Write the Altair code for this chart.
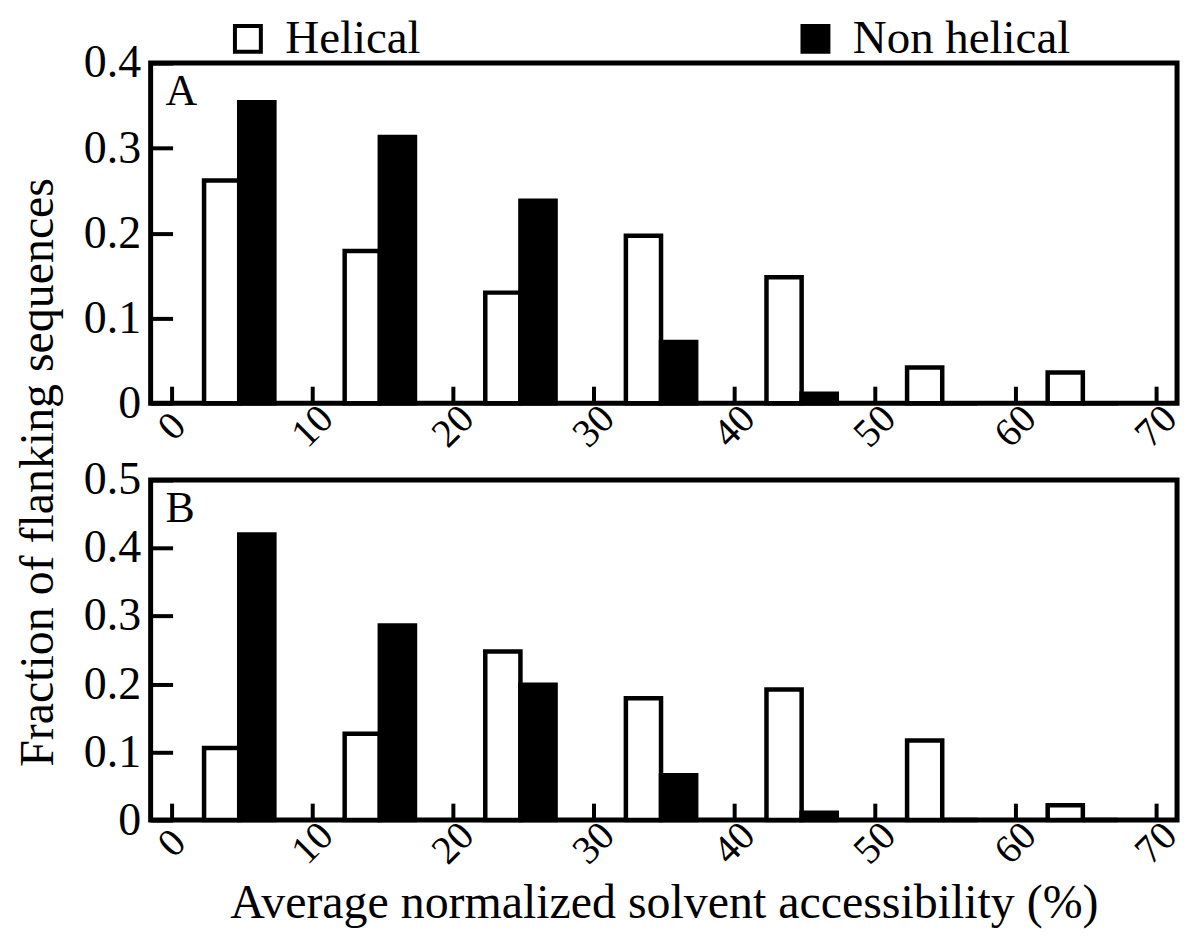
import altair as alt
import pandas as pd

# ---------------- data ----------------
bins = [0, 10, 20, 30, 40, 50, 60]
x_ticks = [0, 10, 20, 30, 40, 50, 60, 70]
series = ["Helical", "Non helical"]

a_helical = [0.262, 0.179, 0.130, 0.197, 0.148, 0.042, 0.036]
a_nonhelical = [0.354, 0.313, 0.238, 0.072, 0.011, 0.0, 0.0]
b_helical = [0.106, 0.127, 0.248, 0.179, 0.192, 0.117, 0.022]
b_nonhelical = [0.420, 0.286, 0.199, 0.066, 0.011, 0.0, 0.0]

a_yticks = [0, 0.1, 0.2, 0.3, 0.4]
b_yticks = [0, 0.1, 0.2, 0.3, 0.4, 0.5]
panel_labels = ["A", "B"]

x_title = "Average normalized solvent accessibility (%)"
y_title = "Fraction of flanking sequences"

# ---------------- layout / style ----------------
FONT = "Liberation Serif"
OFFSETS = {"Helical": (2.3, 4.8), "Non helical": (4.8, 7.3)}  # placement of the two bars in each bin
PLOT_W, PLOT_H = 1029, 341


def make_df(h, n):
    rows = []
    for s, vals in zip(series, [h, n]):
        lo, hi = OFFSETS[s]
        for b, v in zip(bins, vals):
            rows.append({"bin": b, "x0": b + lo, "x1": b + hi, "value": v, "series": s})
    return pd.DataFrame(rows)


legend = alt.Legend(
    title=None, orient="none", legendX=74, legendY=-48, direction="horizontal",
    symbolType="square", symbolSize=676, symbolStrokeColor="black", symbolStrokeWidth=4,
    labelFont=FONT, labelFontSize=47, labelColor="black", columnPadding=372,
    labelOffset=14, padding=0, labelLimit=500,
)


def panel(df, yticks, label, with_title):
    xaxis_kw = dict(
        values=x_ticks, offset=-17, tickSize=17, tickWidth=4, tickColor="black",
        domain=False, grid=False, labelAngle=-45, labelAlign="center",
        labelBaseline="middle", labelPadding=23, labelFontSize=40, labelFont=FONT,
        labelColor="black", labelFlush=False, labelOverlap=False,
    )
    if with_title:
        xaxis_kw.update(title=x_title, titleFont=FONT, titleFontSize=48,
                        titleFontWeight="normal", titleColor="black", titlePadding=8)
    else:
        xaxis_kw.update(title=None)
    xaxis = alt.Axis(**xaxis_kw)
    yaxis = alt.Axis(
        values=yticks, offset=-22, tickSize=22, tickWidth=4, tickColor="black",
        domain=False, grid=False, labelFontSize=46, labelFont=FONT, labelColor="black",
        labelPadding=10, labelFlush=False, labelOverlap=False,
        labelExpr="datum.value == 0 ? '0' : format(datum.value, '.1f')", title=None,
    )
    bars = alt.Chart(df).mark_bar(stroke="black", strokeWidth=4.5).encode(
        x=alt.X("x0:Q", scale=alt.Scale(domain=[-1.5, 71.5], nice=False, zero=False), axis=xaxis),
        x2="x1:Q",
        y=alt.Y("value:Q", scale=alt.Scale(domain=[0, yticks[-1]], nice=False), axis=yaxis),
        y2=alt.datum(0),
        fill=alt.Fill("series:N", scale=alt.Scale(domain=series, range=["white", "black"]),
                      legend=legend),
    )
    lab = alt.Chart(pd.DataFrame({"label": [label]})).mark_text(
        font=FONT, fontSize=44, align="left", baseline="alphabetic", color="black"
    ).encode(x=alt.value(15), y=alt.value(42), text="label:N")
    return alt.layer(bars, lab).properties(width=PLOT_W, height=PLOT_H)


chart_a = panel(make_df(a_helical, a_nonhelical), a_yticks, panel_labels[0], False)
chart_b = panel(make_df(b_helical, b_nonhelical), b_yticks, panel_labels[1], True)

chart = alt.vconcat(
    chart_a, chart_b, spacing=77, bounds="flush",
    title=alt.TitleParams(y_title, orient="left", anchor="middle", font=FONT, fontSize=48,
                          fontWeight="normal", color="black", offset=18),
).resolve_scale(
    x="independent", y="independent", fill="shared"
).resolve_axis(
    x="independent", y="independent"
).properties(
    padding={"left": 6, "top": 6, "right": 5, "bottom": 5},
    background="white",
).configure_view(
    stroke="black", strokeWidth=5
)

chart.save("out.html", embed_options={"renderer": "svg", "actions": False})
